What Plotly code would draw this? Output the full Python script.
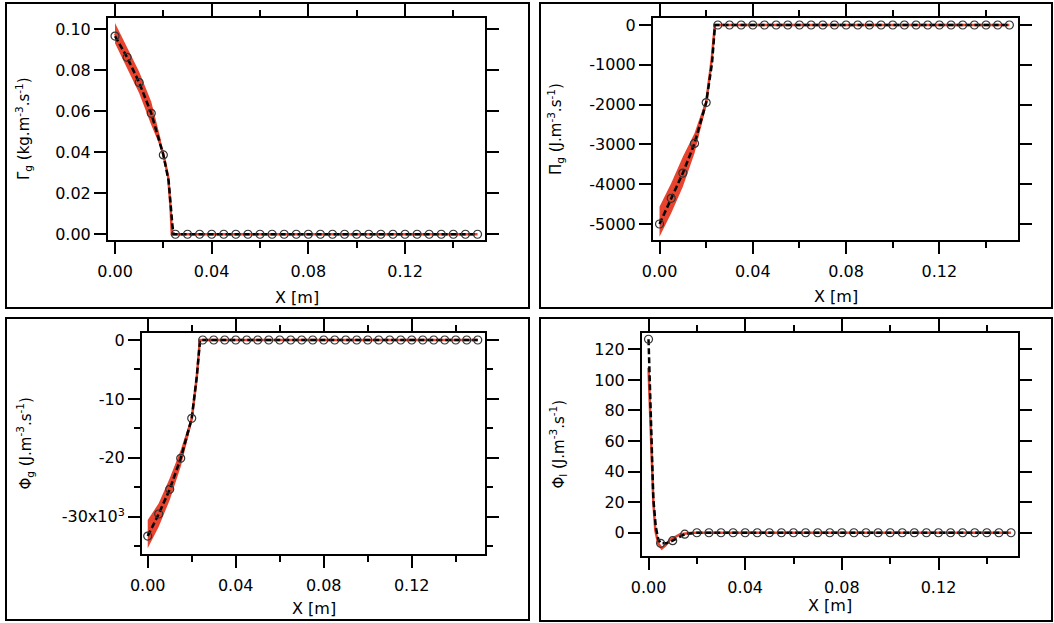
import plotly.graph_objects as go

W, H = 1054, 623
RED = "#E8432E"
INK = "black"
FONT = "DejaVu Sans"

# ---------------------------------------------------------------- data
# sampled positions of the open-circle series
x_markers = [0.000, 0.005, 0.010, 0.015, 0.020, 0.025, 0.030, 0.035, 0.040,
             0.045, 0.050, 0.055, 0.060, 0.065, 0.070, 0.075, 0.080, 0.085,
             0.090, 0.095, 0.100, 0.105, 0.110, 0.115, 0.120, 0.125, 0.130,
             0.135, 0.140, 0.145, 0.150]

gamma_g_markers = [0.0967, 0.0863, 0.0740, 0.0590, 0.0387] + [0.0] * 26
pi_g_markers = [-5000, -4355, -3720, -2975, -1950] + [0] * 26
phi_g_markers = [-33280, -29540, -25350, -20090, -13300] + [0] * 26
phi_l_markers = [126.6, -6.9, -5.2, -0.9, 0.0] + [0.0] * 26

# black dashed reference curve
gamma_g_dash_x = [0.0, 0.005, 0.010, 0.015, 0.020, 0.0222, 0.0237, 0.0242, 0.150]
gamma_g_dash_y = [0.0967, 0.0863, 0.0740, 0.0590, 0.0387, 0.0260, 0.0050, 0.0, 0.0]
pi_g_dash_x = [0.0, 0.005, 0.010, 0.015, 0.020, 0.0225, 0.0238, 0.150]
pi_g_dash_y = [-5000, -4355, -3720, -2975, -1950, -960, 0, 0]
phi_g_dash_x = [0.0, 0.005, 0.010, 0.015, 0.020, 0.0223, 0.0238, 0.150]
phi_g_dash_y = [-33280, -29540, -25350, -20090, -13300, -6230, 0, 0]
phi_l_dash_x = [0.0, 0.001, 0.002, 0.003, 0.004, 0.005, 0.0075, 0.010, 0.015, 0.020, 0.150]
phi_l_dash_y = [126.6, 67.0, 22.0, 4.0, -4.0, -6.9, -6.8, -5.2, -0.9, 0.0, 0.0]

# red solution curve
gamma_g_red_x = [0.0, 0.005, 0.010, 0.015, 0.020, 0.022, 0.023, 0.0235, 0.150]
gamma_g_red_y = [0.0980, 0.0860, 0.0740, 0.0590, 0.0390, 0.0280, 0.0130, 0.0, 0.0]
pi_g_red_x = [0.0, 0.005, 0.010, 0.015, 0.020, 0.0224, 0.0237, 0.150]
pi_g_red_y = [-4940, -4355, -3690, -2970, -1950, -850, 0, 0]
phi_g_red_x = [0.0, 0.005, 0.010, 0.015, 0.020, 0.0223, 0.0237, 0.150]
phi_g_red_y = [-32960, -29700, -25330, -20100, -13400, -6300, 0, 0]
phi_l_red_x = [0.0, 0.001, 0.002, 0.0028, 0.004, 0.0055, 0.007, 0.0087, 0.011, 0.0131, 0.018, 0.150]
phi_l_red_y = [108.0, 62.0, 20.0, 1.8, -7.0, -10.2, -8.3, -4.8, -2.5, -0.9, 0.0, 0.0]

# envelope of the oscillating part of the red curve
gamma_g_band_x = [0.0, 0.005, 0.010, 0.015, 0.019]
gamma_g_band_hi = [0.1030, 0.0915, 0.0793, 0.0647, 0.0460]
gamma_g_band_lo = [0.0932, 0.0810, 0.0688, 0.0533, 0.0420]
pi_g_band_x = [0.0, 0.005, 0.010, 0.015, 0.020]
pi_g_band_hi = [-4565, -3977, -3308, -2722, -1850]
pi_g_band_lo = [-5319, -4731, -4062, -3224, -2050]
phi_g_band_x = [0.0, 0.005, 0.010, 0.015, 0.020]
phi_g_band_hi = [-30560, -27730, -23480, -18680, -12800]
phi_g_band_lo = [-35370, -31690, -27170, -21510, -14100]

# axis ticks
x_tickvals = [0.00, 0.04, 0.08, 0.12]
x_ticktext = ["0.00", "0.04", "0.08", "0.12"]
x_minorvals = [0.02, 0.06, 0.10, 0.14]

gamma_g_tickvals = [0.00, 0.02, 0.04, 0.06, 0.08, 0.10]
gamma_g_ticktext = ["0.00", "0.02", "0.04", "0.06", "0.08", "0.10"]
pi_g_tickvals = [0, -1000, -2000, -3000, -4000, -5000]
pi_g_ticktext = ["0", "-1000", "-2000", "-3000", "-4000", "-5000"]
phi_g_tickvals = [0, -10000, -20000, -30000]
phi_g_ticktext = ["0", "-10", "-20", "-30x10<sup>3</sup>"]
phi_g_minorvals = [-5000, -15000, -25000, -35000]
phi_l_tickvals = [0, 20, 40, 60, 80, 100, 120]
phi_l_ticktext = ["0", "20", "40", "60", "80", "100", "120"]

# ---------------------------------------------------------------- layout
panels = [
    dict(frame=(108, 485, 18, 240), box=(6, 529, 3, 308),
         xr=[-0.0029, 0.1531], yr=[-0.0028, 0.1055],
         ytv=gamma_g_tickvals, ytt=gamma_g_ticktext, ymv=None,
         ytitle="Γ<sub>g</sub> (kg.m<sup>-3</sup>.s<sup>-1</sup>)",
         ytitle_x=23, xtitle_y=297,
         mk=gamma_g_markers, dx=gamma_g_dash_x, dy=gamma_g_dash_y,
         rx=gamma_g_red_x, ry=gamma_g_red_y,
         bx=gamma_g_band_x, bhi=gamma_g_band_hi, blo=gamma_g_band_lo),
    dict(frame=(653, 1018, 18, 240), box=(540, 1052, 3, 308),
         xr=[-0.0028, 0.1537], yr=[-5402, 176],
         ytv=pi_g_tickvals, ytt=pi_g_ticktext, ymv=None,
         ytitle="Π<sub>g</sub> (J.m<sup>-3</sup>.s<sup>-1</sup>)",
         ytitle_x=555, xtitle_y=296,
         mk=pi_g_markers, dx=pi_g_dash_x, dy=pi_g_dash_y,
         rx=pi_g_red_x, ry=pi_g_red_y,
         bx=pi_g_band_x, bhi=pi_g_band_hi, blo=pi_g_band_lo),
    dict(frame=(142, 485, 333, 554), box=(6, 529, 318, 620),
         xr=[-0.0026, 0.1533], yr=[-36330, 1190],
         ytv=phi_g_tickvals, ytt=phi_g_ticktext, ymv=phi_g_minorvals,
         ytitle="Φ<sub>g</sub> (J.m<sup>-3</sup>.s<sup>-1</sup>)",
         ytitle_x=25, xtitle_y=608,
         mk=phi_g_markers, dx=phi_g_dash_x, dy=phi_g_dash_y,
         rx=phi_g_red_x, ry=phi_g_red_y,
         bx=phi_g_band_x, bhi=phi_g_band_hi, blo=phi_g_band_lo),
    dict(frame=(642, 1018, 333, 556), box=(540, 1052, 318, 621),
         xr=[-0.0027, 0.1529], yr=[-15.2, 130.7],
         ytv=phi_l_tickvals, ytt=phi_l_ticktext, ymv=None,
         ytitle="Φ<sub>l</sub> (J.m<sup>-3</sup>.s<sup>-1</sup>)",
         ytitle_x=558, xtitle_y=605,
         mk=phi_l_markers, dx=phi_l_dash_x, dy=phi_l_dash_y,
         rx=phi_l_red_x, ry=phi_l_red_y,
         bx=None, bhi=None, blo=None),
]


def px_x(v):
    return v / W


def px_y(v):
    return 1 - v / H


axis_common = dict(
    showline=True, linecolor=INK, linewidth=2, mirror="ticks",
    ticks="outside", ticklen=12, tickwidth=2, tickcolor=INK,
    showgrid=False, zeroline=False, tickmode="array", automargin=False,
    tickfont=dict(family=FONT, size=16, color=INK),
)

fig = go.Figure()
layout = {}
shapes = []
annotations = []

for i, p in enumerate(panels):
    suffix = "" if i == 0 else str(i + 1)
    xa, ya = "x" + suffix, "y" + suffix
    l, r, t, b = p["frame"]

    if p["bx"] is not None:
        fig.add_trace(go.Scatter(
            x=p["bx"] + p["bx"][::-1], y=p["bhi"] + p["blo"][::-1],
            fill="toself", fillcolor=RED, mode="lines",
            line=dict(width=0, color=RED), hoverinfo="skip",
            showlegend=False, xaxis=xa, yaxis=ya))
    fig.add_trace(go.Scatter(
        x=p["rx"], y=p["ry"], mode="lines",
        line=dict(color=RED, width=2.5), showlegend=False,
        xaxis=xa, yaxis=ya))
    fig.add_trace(go.Scatter(
        x=p["dx"], y=p["dy"], mode="lines",
        line=dict(color=INK, width=2.5, dash="6px,3px"), showlegend=False,
        xaxis=xa, yaxis=ya))
    fig.add_trace(go.Scatter(
        x=x_markers, y=p["mk"], mode="markers",
        marker=dict(symbol="circle-open", size=8, color="#333333",
                    line=dict(width=1.2, color="#333333")),
        showlegend=False, xaxis=xa, yaxis=ya))

    layout["xaxis" + suffix] = dict(
        axis_common, domain=[px_x(l), px_x(r)], anchor=ya, range=p["xr"],
        tickvals=x_tickvals, ticktext=x_ticktext, ticklabelstandoff=4,
        minor=dict(tickmode="array", tickvals=x_minorvals, ticks="outside",
                   ticklen=6, tickwidth=2, tickcolor=INK, showgrid=False))
    yax = dict(
        axis_common, domain=[px_y(b), px_y(t)], anchor=xa, range=p["yr"],
        tickvals=p["ytv"], ticktext=p["ytt"])
    if p["ymv"] is not None:
        yax["minor"] = dict(tickmode="array", tickvals=p["ymv"], ticks="outside",
                            ticklen=6, tickwidth=2, tickcolor=INK, showgrid=False)
    layout["yaxis" + suffix] = yax

    bl, br, bt, bb = p["box"]
    shapes.append(dict(type="rect", xref="paper", yref="paper",
                       x0=px_x(bl), x1=px_x(br), y0=px_y(bb), y1=px_y(bt),
                       line=dict(color=INK, width=2), fillcolor="rgba(0,0,0,0)"))

    annotations.append(dict(
        text=p["ytitle"], textangle=-90, xref="paper", yref="paper",
        x=px_x(p["ytitle_x"]), y=px_y((t + b) / 2), xanchor="center",
        yanchor="middle", showarrow=False,
        font=dict(family=FONT, size=15, color=INK)))
    annotations.append(dict(
        text="X [m]", xref="paper", yref="paper",
        x=px_x((l + r) / 2), y=px_y(p["xtitle_y"]), xanchor="center",
        yanchor="middle", showarrow=False,
        font=dict(family=FONT, size=16, color=INK)))

fig.update_layout(
    template="none",
    width=W, height=H, autosize=False,
    margin=dict(l=0, r=0, t=0, b=0, pad=0),
    paper_bgcolor="white", plot_bgcolor="white",
    shapes=shapes, annotations=annotations,
    **layout,
)

fig.write_html("out.html")
